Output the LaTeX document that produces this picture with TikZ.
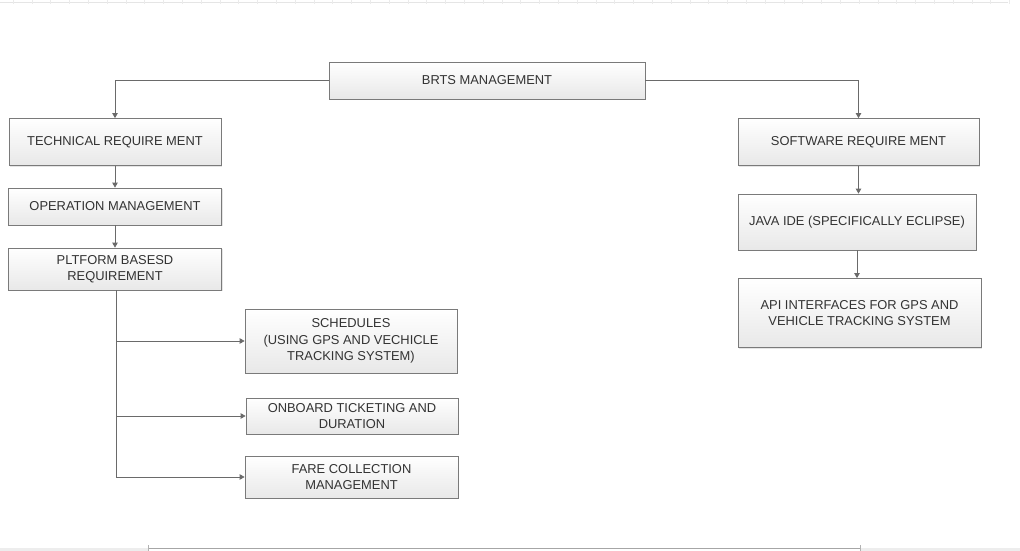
\documentclass[tikz,border=0pt]{standalone}
\usepackage{fontspec}
\setmainfont{Liberation Sans}
\usetikzlibrary{arrows.meta,shadows}
\definecolor{txt}{HTML}{333333}
\definecolor{edge}{HTML}{6A6A6A}
\definecolor{boxline}{HTML}{7A7A7A}
\tikzset{
  box/.style={draw=boxline, line width=0.8pt, top color=white, bottom color=black!9,
    drop shadow={shadow xshift=1pt, shadow yshift=-1pt, opacity=0.25, fill=black!40},
    inner sep=0pt, align=center, text=txt, font=\fontsize{12.9}{16.5}\selectfont},
  conn/.style={draw=edge, line width=0.8pt, -{Triangle[width=5.5pt,length=5pt]}},
}
\begin{document}
\begin{tikzpicture}[x=1pt,y=-1pt]
\useasboundingbox (0,0) rectangle (1020,551);
\fill[white] (0,0) rectangle (1020,551);
% top ruler
\draw[black!10, line width=0.6pt] (0,2.5) -- (1008,2.5);
\foreach \i in {0,...,53} { \draw[black!8, line width=0.5pt] ({13+18.8*\i},0) -- ({13+18.8*\i},4); }
% bottom strip
\fill[black!7] (0,547.5) rectangle (1020,551);
\fill[white] (148,547.5) rectangle (860,551);
\draw[black!35, line width=0.8pt] (148,548.5) -- (860,548.5);
\draw[black!30, line width=0.5pt] (148,545) -- (148,551) (860,545) -- (860,551);

\node[box, minimum width=316, minimum height=37] (brts) at (487,80.5) {BRTS MANAGEMENT};
\node[box, minimum width=212, minimum height=47] (tech) at (115,142) {TECHNICAL REQUIRE MENT};
\node[box, minimum width=213, minimum height=37] (oper) at (115,206.5) {OPERATION MANAGEMENT};
\node[box, minimum width=213, minimum height=42] (pltf) at (115,269) {PLTFORM BASESD\\REQUIREMENT};
\node[box, minimum width=212, minimum height=64] (sched) at (351,341) {SCHEDULES\\(USING GPS AND VECHICLE\\TRACKING SYSTEM)};
\node[box, minimum width=212, minimum height=36] (onb) at (352,416) {ONBOARD TICKETING AND\\DURATION};
\node[box, minimum width=213, minimum height=42] (fare) at (351.5,477) {FARE COLLECTION\\MANAGEMENT};
\node[box, minimum width=241, minimum height=47] (soft) at (858.5,142) {SOFTWARE REQUIRE MENT};
\node[box, minimum width=238, minimum height=56] (java) at (857,222) {JAVA IDE (SPECIFICALLY ECLIPSE)};
\node[box, minimum width=243, minimum height=69] (api) at (859.5,313) {API INTERFACES FOR GPS AND\\VEHICLE TRACKING SYSTEM};

\draw[conn] (brts.west) -| (tech.north);
\draw[conn] (brts.east) -| (soft.north);
\draw[conn] (tech.south) -- (oper.north);
\draw[conn] (oper.south) -- (pltf.north);
\draw[conn] ([xshift=1pt]pltf.south) |- (sched.west);
\draw[conn] ([xshift=1pt]pltf.south) |- (onb.west);
\draw[conn] ([xshift=1pt]pltf.south) |- (fare.west);
\draw[conn] (soft.south) -- (soft.south |- java.north);
\draw[conn] (java.south) -- (java.south |- api.north);
\end{tikzpicture}
\end{document}
